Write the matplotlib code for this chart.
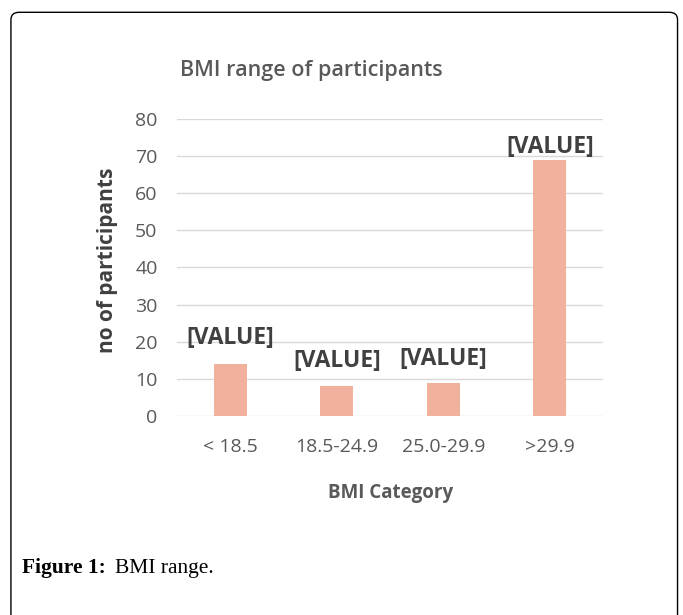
import matplotlib
matplotlib.use("Agg")
import matplotlib.pyplot as plt
from matplotlib.patches import FancyBboxPatch

categories = ["< 18.5", "18.5-24.9", "25.0-29.9", ">29.9"]
counts = [14, 8, 9, 69]
bar_labels = ["[VALUE]", "[VALUE]", "[VALUE]", "[VALUE]"]
yticks = [0, 10, 20, 30, 40, 50, 60, 70, 80]

font = "Open Sans"
grey = "#595959"

fig = plt.figure(figsize=(6.83, 6.15), dpi=100)

# outer frame (rounded, open at the bottom)
frame = FancyBboxPatch((0.016, -0.05), 0.976, 1.03, boxstyle="round,pad=0,rounding_size=0.012",
                       transform=fig.transFigure, fill=False, edgecolor="black", linewidth=1.0)
fig.patches.append(frame)

ax = fig.add_axes([0.2592, 0.3236, 0.6237, 0.4829])
x = range(len(categories))
ax.bar(x, counts, width=0.31, color="#F2B19C", zorder=3)

ax.set_xlim(-0.5, 3.5)
ax.set_ylim(0, 80)
ax.set_yticks(yticks)
ax.set_xticks(list(x))
ax.set_xticklabels(categories)
ax.grid(axis="y", color="#d9d9d9", linewidth=1.0, zorder=0)
for s in ax.spines.values():
    s.set_visible(False)
ax.tick_params(axis="both", length=0, labelsize=14, labelcolor=grey)
ax.tick_params(axis="y", pad=14)
ax.tick_params(axis="x", pad=16)
for lab in ax.get_xticklabels() + ax.get_yticklabels():
    lab.set_fontfamily(font)

offsets = [19, 18, 17, 9]
for i, (v, t) in enumerate(zip(counts, bar_labels)):
    ax.annotate(t, (i, v), xytext=(0, offsets[i]), textcoords="offset points",
                ha="center", va="center", fontsize=16.5, fontweight="bold",
                color="#404040", family=font, annotation_clip=False)

fig.text(0.456, 0.886, "BMI range of participants", ha="center", va="center",
         fontsize=15.5, color=grey, family=font, fontweight="semibold")
fig.text(0.572, 0.198, "BMI Category", ha="center", va="center",
         fontsize=13.5, color=grey, family=font, fontweight="bold")
fig.text(0.157, 0.577, "no of participants", ha="center", va="center", rotation=90,
         fontsize=15, color="#404040", family=font, fontweight="bold")

fig.text(0.032, 0.076, "Figure 1:", ha="left", va="center", fontsize=15.5,
         family="Liberation Serif", fontweight="bold")
fig.text(0.168, 0.076, "BMI range.", ha="left", va="center", fontsize=15.5,
         family="Liberation Serif")

fig.savefig("out.png", dpi=100)
